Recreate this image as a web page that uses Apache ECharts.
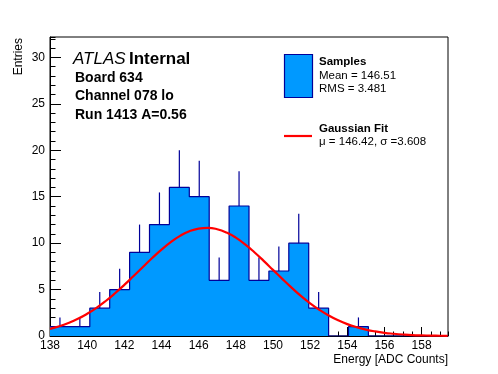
<!DOCTYPE html>
<html>
<head>
<meta charset="utf-8">
<script src="https://cdn.jsdelivr.net/npm/echarts@6/dist/echarts.min.js"></script>
<style>html,body{margin:0;padding:0;background:#fff}#c{width:498px;height:374px}</style>
</head>
<body>
<div id="c"></div>
<script>
// ---- data ----
const xMin = 138, xMax = 159.42, nBins = 20;
const counts = [1,1,3,5,9,12,16,15,6,14,6,7,10,3,0,1,0,0,0,0];
const errors = [1,1,1.73,2.24,3,3.46,4,3.87,2.45,3.74,2.45,2.65,3.16,1.73,0,1,0,0,0,0];
const fitX = [138,138.5,139,139.5,140,140.5,141,141.5,142,142.5,143,143.5,144,144.5,145,145.5,146,146.5,147,147.5,148,148.5,149,149.5,150,150.5,151,151.5,152,152.5,153,153.5,154,154.5,155,155.5,156,156.5,157,157.5,158,158.5,159,159.4];
const fitY = [0.77,1.05,1.41,1.85,2.39,3.03,3.77,4.60,5.50,6.46,7.43,8.40,9.30,10.11,10.78,11.28,11.57,11.65,11.50,11.14,10.59,9.87,9.02,8.09,7.12,6.15,5.21,4.32,3.52,2.82,2.21,1.70,1.28,0.95,0.69,0.49,0.34,0.24,0.16,0.10,0.068,0.043,0.027,0.018];
const yMax = 32.2;
const xTitle = 'Energy [ADC Counts]';
const yTitle = 'Entries';

// ---- build ----
const bw = (xMax - xMin) / nBins;
const stepData = counts.map((c, i) => [xMin + i * bw, c]);
stepData.push([xMax, counts[nBins - 1]]);
const errData = counts.map((c, i) => [xMin + (i + 0.5) * bw, c, errors[i]]).filter(d => d[2] > 0);
const fitData = fitX.map((x, i) => [x, fitY[i]]);

const FONT = 'Liberation Sans, Arial, Helvetica, sans-serif';
const fill = '#0099ff', edge = '#000099';

function txt(x, y, text, font, align) {
  return {type: 'text', x: x, y: y, style: {text: text, font: font, fill: '#000', align: align || 'left', verticalAlign: 'middle'}};
}

const chart = echarts.init(document.getElementById('c'), null, {renderer: 'canvas'});
chart.setOption({
  animation: false,
  backgroundColor: '#fff',
  grid: {left: 50, right: 50, top: 37, bottom: 38, show: true, borderColor: '#000', borderWidth: 1, backgroundColor: 'transparent'},
  xAxis: [
    {type: 'value', min: xMin, max: xMax, interval: 2, position: 'bottom',
     axisLine: {show: true, onZero: false, lineStyle: {color: '#000', width: 1}},
     axisTick: {show: true, inside: true, length: 9, lineStyle: {color: '#000'}},
     axisLabel: {show: true, showMaxLabel: false, color: '#000', fontFamily: FONT, fontSize: 12, margin: 4},
     splitLine: {show: false}},
    {type: 'value', min: xMin, max: xMax, interval: 0.5, position: 'bottom',
     axisLine: {show: false, onZero: false},
     axisTick: {show: true, inside: true, length: 4.5, lineStyle: {color: '#000'}},
     axisLabel: {show: false}, splitLine: {show: false}}
  ],
  yAxis: [
    {type: 'value', min: 0, max: yMax, interval: 5, position: 'left',
     axisLine: {show: true, onZero: false, lineStyle: {color: '#000', width: 1}},
     axisTick: {show: true, inside: true, length: 11, lineStyle: {color: '#000'}},
     axisLabel: {show: true, showMaxLabel: false, color: '#000', fontFamily: FONT, fontSize: 12, margin: 5},
     splitLine: {show: false}},
    {type: 'value', min: 0, max: yMax, interval: 1, position: 'left',
     axisLine: {show: false, onZero: false},
     axisTick: {show: true, inside: true, length: 5.5, lineStyle: {color: '#000'}},
     axisLabel: {show: false}, splitLine: {show: false}}
  ],
  series: [
    {type: 'line', xAxisIndex: 0, yAxisIndex: 0, data: stepData, step: 'end', showSymbol: false,
     lineStyle: {color: edge, width: 1.2}, areaStyle: {color: fill, opacity: 1}, z: 2},
    {type: 'custom', xAxisIndex: 0, yAxisIndex: 0, data: errData, z: 3,
     renderItem: function (params, api) {
       const p0 = api.coord([api.value(0), api.value(1)]);
       const p1 = api.coord([api.value(0), api.value(1) + api.value(2)]);
       return {type: 'line', shape: {x1: p0[0], y1: p0[1], x2: p1[0], y2: p1[1]},
               style: {stroke: edge, lineWidth: 1.2}};
     }},
    {type: 'line', xAxisIndex: 0, yAxisIndex: 0, data: fitData, showSymbol: false, smooth: true,
     lineStyle: {color: '#ff0000', width: 2.2}, z: 4}
  ],
  graphic: [
    {type: 'text', x: 73, y: 59.5, style: {text: '{a|ATLAS} {b|Internal}', fill: '#000', verticalAlign: 'middle',
      rich: {a: {fontFamily: FONT, fontStyle: 'italic', fontSize: 17, fill: '#000'},
             b: {fontFamily: FONT, fontWeight: 'bold', fontSize: 17, fill: '#000'}}}},
    txt(75, 78, 'Board 634', 'bold 14px ' + FONT),
    txt(75, 96.5, 'Channel 078 lo', 'bold 14px ' + FONT),
    txt(75, 115, 'Run 1413 A=0.56', 'bold 14px ' + FONT),
    {type: 'rect', shape: {x: 284.5, y: 54.5, width: 28, height: 43}, style: {fill: fill, stroke: edge, lineWidth: 1.2}},
    txt(319, 62, 'Samples', 'bold 11.5px ' + FONT),
    txt(319, 75.5, 'Mean = 146.51', '11.5px ' + FONT),
    txt(319, 88.5, 'RMS = 3.481', '11.5px ' + FONT),
    {type: 'line', shape: {x1: 284, y1: 136, x2: 312, y2: 136}, style: {stroke: '#ff0000', lineWidth: 2.2}},
    txt(319, 128.5, 'Gaussian Fit', 'bold 11.5px ' + FONT),
    txt(319, 141.5, 'μ = 146.42, σ =3.608', '11.5px ' + FONT),
    txt(448, 360, xTitle, '12px ' + FONT, 'right'),
    {type: 'text', x: 19, y: 38, rotation: Math.PI / 2, style: {text: yTitle, font: '12px ' + FONT, fill: '#000', align: 'right', verticalAlign: 'middle'}}
  ]
});
</script>
</body>
</html>
